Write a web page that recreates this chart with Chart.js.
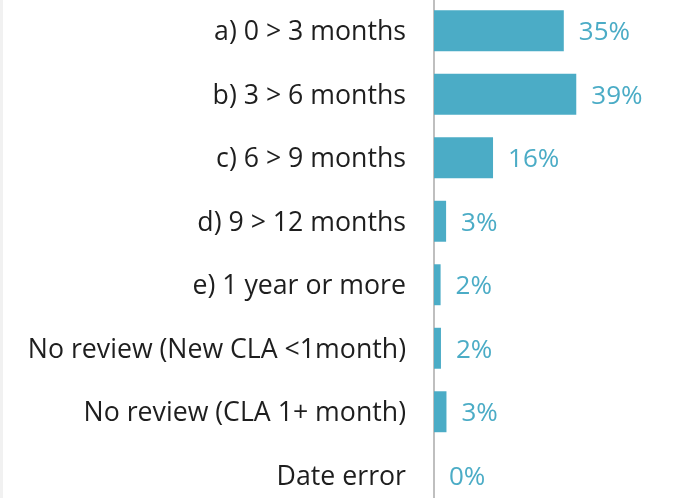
<!DOCTYPE html>
<html>
<head>
<meta charset="utf-8">
<script src="https://cdn.jsdelivr.net/npm/chart.js@4.4.0/dist/chart.umd.min.js"></script>
<style>
  html, body { margin: 0; padding: 0; background: #fff; overflow: hidden; }
  body { width: 678px; height: 498px; position: relative; }
  .edge { position: absolute; left: 0; top: 0; width: 3px; height: 498px; background: #f1f1f1; }
  .wrap { position: absolute; left: 0; top: -1px; width: 678px; height: 508px; }
</style>
</head>
<body>
<div class="edge"></div>
<div class="wrap"><canvas id="chart"></canvas></div>
<script>
// categories and values (percent)
const categories = [
  'a) 0 > 3 months',
  'b) 3 > 6 months',
  'c) 6 > 9 months',
  'd) 9 > 12 months',
  'e) 1 year or more',
  'No review (New CLA <1month)',
  'No review (CLA 1+ month)',
  'Date error'
];
const shares = [35.4, 38.8, 16.1, 3.3, 1.8, 1.9, 3.4, 0];

const barColor = '#4bacc6';
const fontFamily = "'Open Sans', 'Noto Sans', sans-serif";

// value labels drawn right of each bar
const valueLabels = {
  id: 'valueLabels',
  afterDatasetsDraw(chart) {
    const ctx = chart.ctx;
    const meta = chart.getDatasetMeta(0);
    ctx.save();
    ctx.font = '26px ' + fontFamily;
    ctx.fillStyle = barColor;
    ctx.textAlign = 'left';
    ctx.textBaseline = 'middle';
    meta.data.forEach((bar, i) => {
      ctx.fillText(Math.round(shares[i]) + '%', bar.x + 15, bar.y + 2);
    });
    ctx.restore();
  }
};

new Chart(document.getElementById('chart'), {
  type: 'bar',
  data: {
    labels: categories,
    datasets: [{
      data: shares,
      backgroundColor: barColor,
      borderWidth: 0,
      barPercentage: 0.645,
      categoryPercentage: 1
    }]
  },
  options: {
    indexAxis: 'y',
    responsive: true,
    maintainAspectRatio: false,
    animation: false,
    layout: { padding: { top: 0, bottom: 0, left: 0, right: 24 } },
    plugins: {
      legend: { display: false },
      tooltip: { enabled: false }
    },
    scales: {
      x: {
        display: false,
        min: 0,
        max: 60
      },
      y: {
        afterFit(scale) {
          scale.width = 434;
          // no extra room above/below, the rows fill the whole height
          scale.paddingTop = 0;
          scale.paddingBottom = 0;
        },
        grid: { display: false, drawTicks: false },
        border: { display: true, color: '#bfbfbf', width: 2 },
        ticks: {
          color: '#1e1e1e',
          padding: 28,
          labelOffset: 2,
          font: { family: fontFamily, size: 26.7 }
        }
      }
    }
  },
  plugins: [valueLabels]
});
</script>
</body>
</html>
